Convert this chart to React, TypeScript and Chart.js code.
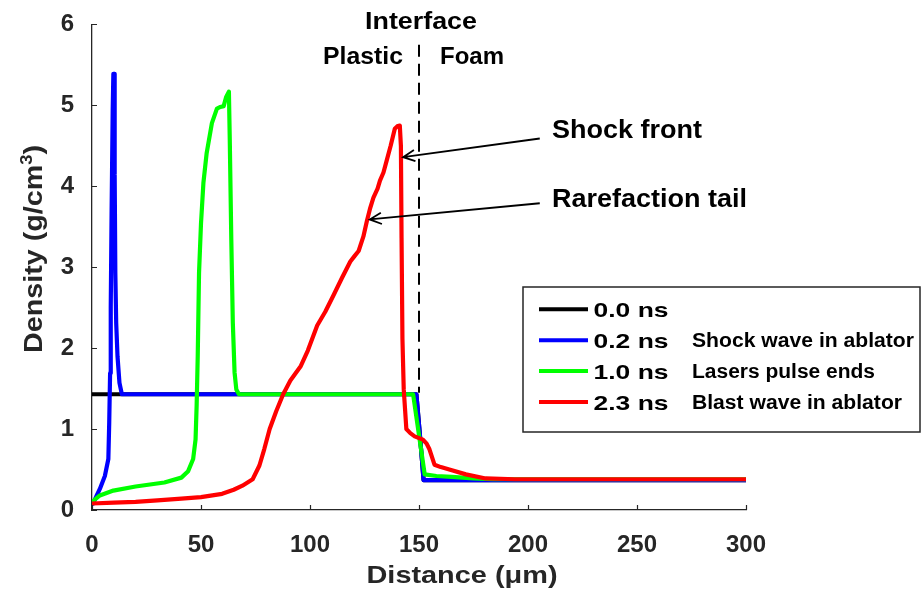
import React, { useEffect, useRef } from 'react';
import { Chart, registerables } from 'chart.js';

Chart.register(...registerables);

// ---------- data ----------
const seriesLabels = ['0.0 ns', '0.2 ns', '1.0 ns', '2.3 ns'];
const seriesNotes = ['', 'Shock wave in ablator', 'Lasers pulse ends', 'Blast wave in ablator'];
const seriesColors = ['#000000', '#0000ff', '#00ff00', '#ff0000'];

const blackX = [0, 148.8, 150.5, 152.1, 300];
const blackY = [1.43, 1.43, 0.9, 0.37, 0.37];

const blueX = [0.5, 2.0, 3.6, 5.9, 7.5, 7.9, 8.3, 8.6, 9.0, 9.5, 9.8, 10.1, 10.4, 10.7, 11.1, 11.7, 12.6, 13.7, 20, 60, 100, 148.8, 150.5, 152.1, 160, 200, 300];
const blueY = [0.08, 0.17, 0.26, 0.42, 0.63, 1.08, 1.69, 2.51, 3.72, 4.95, 5.39, 5.39, 4.15, 2.93, 2.31, 1.9, 1.57, 1.43, 1.43, 1.43, 1.43, 1.43, 0.9, 0.37, 0.37, 0.37, 0.37];

const greenX = [0, 3.6, 9.8, 20, 33.2, 41, 44.1, 46.4, 47.5, 48, 48.5, 49.1, 50, 51.1, 52.6, 55, 57.3, 58.9, 60.4, 61.5, 62.8, 63.2, 63.9, 64.6, 65.4, 66.2, 67.4, 80, 120, 147.3, 150.3, 152.6, 158, 165, 175, 184, 300];
const greenY = [0.1, 0.18, 0.24, 0.29, 0.34, 0.4, 0.48, 0.63, 0.87, 1.29, 1.9, 2.93, 3.54, 4.04, 4.41, 4.78, 4.96, 4.98, 4.99, 5.1, 5.17, 4.57, 3.34, 2.31, 1.7, 1.49, 1.43, 1.43, 1.43, 1.43, 0.87, 0.44, 0.42, 0.41, 0.39, 0.38, 0.38];

const redX = [0, 10, 20, 30, 41, 50, 59.7, 65, 69, 73.7, 76.8, 79, 81.5, 84.5, 87.7, 91, 95.8, 99, 103.3, 107, 110.9, 114.7, 118.5, 120.5, 122.3, 124.5, 126.1, 127.5, 129.1, 131, 132.1, 133.7, 135.2, 137, 138.9, 140, 141.2, 141.7, 142, 142.4, 143, 144.2, 146, 148, 151.8, 153.5, 154.8, 157.1, 160, 163.9, 171.5, 180.6, 194, 220, 300];
const redY = [0.08, 0.09, 0.1, 0.12, 0.14, 0.16, 0.2, 0.25, 0.3, 0.38, 0.55, 0.75, 1.0, 1.22, 1.43, 1.6, 1.78, 1.97, 2.28, 2.45, 2.66, 2.87, 3.07, 3.14, 3.2, 3.38, 3.57, 3.72, 3.86, 3.97, 4.07, 4.17, 4.32, 4.5, 4.71, 4.74, 4.75, 4.5, 3.36, 2.12, 1.49, 1.0, 0.95, 0.91, 0.87, 0.82, 0.75, 0.56, 0.53, 0.5, 0.44, 0.39, 0.38, 0.38, 0.38];

const xTicks = [0, 50, 100, 150, 200, 250, 300];
const yTicks = [0, 1, 2, 3, 4, 5, 6];

const interfaceX = 150;
const interfaceYRange = [1.45, 5.75];

const arrowLabels = ['Shock front', 'Rarefaction tail'];
const arrowTailsX = [205.4, 205.4];
const arrowTailsY = [4.59, 3.79];
const arrowTipsX = [142.7, 127.4];
const arrowTipsY = [4.36, 3.59];

const xTitle = 'Distance (\u03bcm)';
const yTitleMain = 'Density (g/cm';
const yTitleSup = '3';
const yTitleEnd = ')';

// ---------- helpers ----------
const FONT = '"Liberation Sans", Arial, Helvetica, sans-serif';
const AXIS_COLOR = '#262626';

function fitText(ctx: CanvasRenderingContext2D, text: string, x: number, y: number, size: number, width: number, align: 'left' | 'center', color = '#000') {
  ctx.save();
  ctx.font = `bold ${size}px ${FONT}`;
  ctx.fillStyle = color;
  ctx.textAlign = 'left';
  ctx.textBaseline = 'alphabetic';
  const w = ctx.measureText(text).width;
  const sx = width / w;
  const x0 = align === 'center' ? x - width / 2 : x;
  ctx.translate(x0, y);
  ctx.scale(sx, 1);
  ctx.fillText(text, 0, 0);
  ctx.restore();
}

const overlayPlugin = {
  id: 'overlay',
  afterDatasetsDraw(chart: any) {
    const ctx: CanvasRenderingContext2D = chart.ctx;
    const xs = chart.scales.x;
    const ys = chart.scales.y;
    const area = chart.chartArea;

    // inward tick marks
    ctx.save();
    ctx.strokeStyle = AXIS_COLOR;
    ctx.lineWidth = 1.2;
    ctx.beginPath();
    xTicks.forEach((v) => {
      const px = Math.round(xs.getPixelForValue(v)) + 0.5;
      ctx.moveTo(px, area.bottom);
      ctx.lineTo(px, area.bottom - 5);
    });
    yTicks.forEach((v) => {
      const py = Math.round(ys.getPixelForValue(v)) + 0.5;
      ctx.moveTo(area.left, py);
      ctx.lineTo(area.left + 5, py);
    });
    ctx.stroke();
    ctx.restore();

    // interface dashed line
    ctx.save();
    ctx.strokeStyle = '#000';
    ctx.lineWidth = 2;
    ctx.setLineDash([12, 7]);
    ctx.beginPath();
    const ix = xs.getPixelForValue(interfaceX);
    ctx.moveTo(ix, ys.getPixelForValue(interfaceYRange[1]));
    ctx.lineTo(ix, ys.getPixelForValue(interfaceYRange[0]));
    ctx.stroke();
    ctx.restore();

    // arrows
    ctx.save();
    ctx.strokeStyle = '#000';
    ctx.lineWidth = 1.8;
    for (let i = 0; i < arrowLabels.length; i++) {
      const tx = xs.getPixelForValue(arrowTailsX[i]);
      const ty = ys.getPixelForValue(arrowTailsY[i]);
      const hx = xs.getPixelForValue(arrowTipsX[i]);
      const hy = ys.getPixelForValue(arrowTipsY[i]);
      const a = Math.atan2(ty - hy, tx - hx);
      ctx.beginPath();
      ctx.moveTo(tx, ty);
      ctx.lineTo(hx, hy);
      ctx.moveTo(hx + 13 * Math.cos(a + 0.45), hy + 13 * Math.sin(a + 0.45));
      ctx.lineTo(hx, hy);
      ctx.lineTo(hx + 13 * Math.cos(a - 0.45), hy + 13 * Math.sin(a - 0.45));
      ctx.stroke();
    }
    ctx.restore();
  },
  afterDraw(chart: any) {
    const ctx: CanvasRenderingContext2D = chart.ctx;

    // annotation texts
    fitText(ctx, 'Interface', 421, 28.5, 24, 112, 'center');
    fitText(ctx, 'Plastic', 363, 63.5, 24, 80, 'center');
    fitText(ctx, 'Foam', 472, 63.5, 24, 64, 'center');
    fitText(ctx, arrowLabels[0], 552, 138.3, 25, 150, 'left');
    fitText(ctx, arrowLabels[1], 552, 206.7, 25, 195, 'left');

    // legend
    ctx.save();
    ctx.fillStyle = '#ffffff';
    ctx.fillRect(523, 287, 397, 145);
    ctx.strokeStyle = AXIS_COLOR;
    ctx.lineWidth = 1.5;
    ctx.strokeRect(523, 287, 397, 145);
    ctx.restore();
    const noteWidths = [0, 222, 183, 210];
    for (let i = 0; i < seriesLabels.length; i++) {
      const cy = 309.3 + i * 30.9;
      ctx.save();
      ctx.strokeStyle = seriesColors[i];
      ctx.lineWidth = 4;
      ctx.beginPath();
      ctx.moveTo(539, cy);
      ctx.lineTo(588, cy);
      ctx.stroke();
      ctx.restore();
      fitText(ctx, seriesLabels[i], 593.5, cy + 7.5, 21, 75, 'left');
      if (seriesNotes[i]) fitText(ctx, seriesNotes[i], 692, cy + 7, 20, noteWidths[i], 'left');
    }

    // axis titles
    fitText(ctx, xTitle, 462, 583, 24, 191, 'center', AXIS_COLOR);

    ctx.save();
    ctx.fillStyle = AXIS_COLOR;
    ctx.textAlign = 'left';
    ctx.textBaseline = 'alphabetic';
    const mainFont = `bold 25px ${FONT}`;
    const supFont = `bold 16px ${FONT}`;
    ctx.font = mainFont;
    const w1 = ctx.measureText(yTitleMain).width;
    const w3 = ctx.measureText(yTitleEnd).width;
    ctx.font = supFont;
    const w2 = ctx.measureText(yTitleSup).width;
    const total = w1 + w2 + w3;
    const sx = 208 / total;
    ctx.translate(42, 249);
    ctx.rotate(-Math.PI / 2);
    ctx.scale(sx, 1);
    const x0 = -total / 2;
    ctx.font = mainFont;
    ctx.fillText(yTitleMain, x0, 0);
    ctx.font = supFont;
    ctx.fillText(yTitleSup, x0 + w1, -10);
    ctx.font = mainFont;
    ctx.fillText(yTitleEnd, x0 + w1 + w2, 0);
    ctx.restore();
  },
};

function toPoints(xs: number[], ys: number[]) {
  return xs.map((x, i) => ({ x, y: ys[i] }));
}

export default function App() {
  const ref = useRef<HTMLCanvasElement | null>(null);

  useEffect(() => {
    if (!ref.current) return;
    const allX = [blackX, blueX, greenX, redX];
    const allY = [blackY, blueY, greenY, redY];
    const chart = new Chart(ref.current, {
      type: 'line',
      data: {
        datasets: seriesLabels.map((label, i) => ({
          label,
          data: toPoints(allX[i], allY[i]),
          borderColor: seriesColors[i],
          backgroundColor: seriesColors[i],
          borderWidth: 4.2,
          borderJoinStyle: 'round',
          borderCapStyle: 'round',
          pointRadius: 0,
          tension: 0,
          fill: false,
          order: seriesLabels.length - 1 - i,
        })),
      },
      options: {
        animation: false,
        responsive: false,
        devicePixelRatio: 1,
        layout: { padding: { left: 0, top: 18, right: 176, bottom: 0 } },
        plugins: { legend: { display: false }, tooltip: { enabled: false } },
        scales: {
          x: {
            type: 'linear',
            min: 0,
            max: 300,
            grid: { display: false },
            border: { display: true, color: AXIS_COLOR, width: 1.3 },
            ticks: {
              stepSize: 50,
              color: AXIS_COLOR,
              padding: 13,
              maxRotation: 0,
              font: { family: FONT, size: 24, weight: 'bold' },
            },
            afterFit: (s: any) => { s.height = 87; },
          },
          y: {
            type: 'linear',
            min: 0,
            max: 6,
            grid: { display: false },
            border: { display: true, color: AXIS_COLOR, width: 1.3 },
            ticks: {
              stepSize: 1,
              color: AXIS_COLOR,
              padding: 10,
              font: { family: FONT, size: 24, weight: 'bold' },
            },
            afterFit: (s: any) => { s.width = 92; },
          },
        },
      } as any,
      plugins: [overlayPlugin],
    });
    return () => chart.destroy();
  }, []);

  return (
    <div style={{ position: 'fixed', left: 0, top: 0, width: 922, height: 597, background: '#fff' }}>
      <canvas ref={ref} width={922} height={597} style={{ display: 'block' }} />
    </div>
  );
}
